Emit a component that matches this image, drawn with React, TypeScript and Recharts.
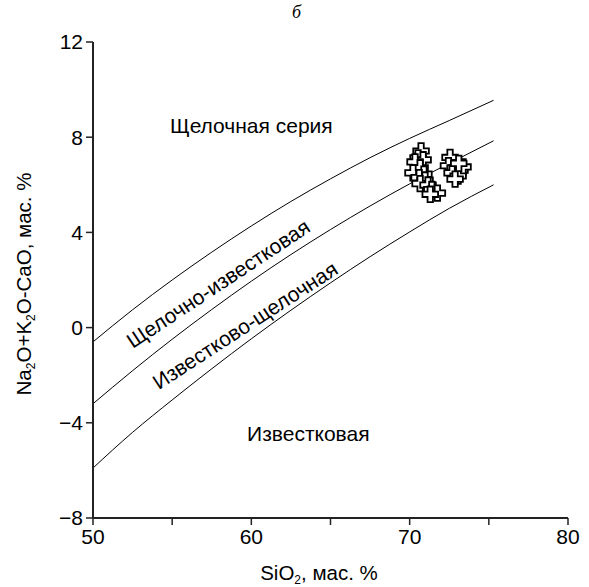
import React from 'react';
import { ComposedChart, Line, Scatter, XAxis, YAxis, ReferenceDot } from 'recharts';

// boundary curves (SiO2 vs Na2O+K2O-CaO)
const curveSiO2 = [50, 52.5, 55, 57.5, 60, 62.5, 65, 67.5, 70, 72.5, 75.3];
const alkalicLine = [-0.6, 0.75, 2.0, 3.17, 4.27, 5.3, 6.25, 7.14, 7.95, 8.7, 9.55];
const alkaliCalcicLine = [-3.2, -1.81, -0.49, 0.76, 1.95, 3.07, 4.12, 5.11, 6.04, 6.9, 7.85];
const calcAlkalicLine = [-5.9, -4.4, -3.04, -1.73, -0.47, 0.73, 1.88, 2.98, 4.02, 5.01, 6.0];

// samples
const sampleSiO2 = [70.72, 70.53, 70.85, 70.34, 70.66, 70.21, 70.9, 70.6, 70.97, 70.66, 71.16, 71.4, 71.75, 71.3,
  72.55, 72.45, 72.87, 73.18, 73.37, 72.68, 73.06, 72.87, 73.1];
const sampleMali = [7.42, 7.13, 7.05, 6.96, 6.71, 6.5, 6.45, 6.3, 6.2, 6.05, 5.99, 5.8, 5.65, 5.6,
  7.15, 6.8, 6.71, 6.62, 6.75, 6.5, 6.37, 6.24, 6.9];

const xTicks = [50, 55, 60, 65, 70, 75, 80];
const yTicks = [-8, -4, 0, 4, 8, 12];

const regionNames = ['Щелочная серия', 'Щелочно-известковая', 'Известково-щелочная', 'Известковая'];
const regionX = [60.0, 57.9, 59.6, 63.6];
const regionY = [8.5, 1.85, 0.1, -4.45];
const regionAngle = [0, -33.5, -33, 0];

const toPoints = (ys: number[]) => curveSiO2.map((x, i) => ({ x, y: ys[i] }));
const samples = sampleSiO2.map((x, i) => ({ x, y: sampleMali[i] }));

const FONT = '"Liberation Sans", Arial, sans-serif';

const PlusMarker = (props: any) => {
  const { cx, cy } = props;
  const a = 2.7;
  const l = 7.8;
  const pts = [
    [-a, -l], [a, -l], [a, -a], [l, -a], [l, a], [a, a],
    [a, l], [-a, l], [-a, a], [-l, a], [-l, -a], [-a, -a],
  ].map(([dx, dy]) => `${cx + dx},${cy + dy}`).join(' ');
  return <polygon points={pts} fill="#fff" stroke="#000" strokeWidth={1.8} />;
};

const regionLabel = (text: string, angle: number) => (props: any) => {
  const vb = props.viewBox;
  const cx = vb.x + (vb.width || 0) / 2;
  const cy = vb.y + (vb.height || 0) / 2;
  return (
    <text
      x={cx}
      y={cy}
      textAnchor="middle"
      dominantBaseline="central"
      fontFamily={FONT}
      fontSize={21}
      fill="#000"
      transform={angle ? `rotate(${angle} ${cx} ${cy})` : undefined}
    >
      {text}
    </text>
  );
};

const XTitle = (props: any) => {
  const vb = props.viewBox;
  return (
    <text x={319} y={vb.y + 62} textAnchor="middle" fontFamily={FONT} fontSize={20.5} fill="#000">
      SiO<tspan fontSize={12} dy={4}>2</tspan>
      <tspan dy={-4}>, мас. %</tspan>
    </text>
  );
};

const YTitle = () => {
  // baseline position; text is turned to read bottom-to-top
  const bx = 31;
  const by = 284;
  return (
    <text
      x={bx}
      y={by}
      textAnchor="middle"
      fontFamily={FONT}
      fontSize={20.5}
      fill="#000"
      transform={`rotate(-90 ${bx} ${by})`}
    >
      Na<tspan fontSize={12} dy={4}>2</tspan>
      <tspan dy={-4}>O+K</tspan>
      <tspan fontSize={12} dy={4}>2</tspan>
      <tspan dy={-4}>O-CaO, мас. %</tspan>
    </text>
  );
};

export default function App() {
  return (
    <div style={{ position: 'absolute', left: 0, top: 0, width: 589, height: 587, background: '#fff' }}>
      <div
        style={{
          position: 'absolute',
          left: 0,
          width: 589,
          top: 2,
          textAlign: 'center',
          fontFamily: '"Liberation Serif", serif',
          fontStyle: 'italic',
          fontSize: 18,
        }}
      >
        <span style={{ position: 'relative', left: 2 }}>б</span>
      </div>
      <ComposedChart width={589} height={587} margin={{ top: 42, right: 21, bottom: 0, left: 0 }}>
        <XAxis
          type="number"
          dataKey="x"
          domain={[50, 80]}
          ticks={xTicks}
          interval={0}
          tickFormatter={(v: number) => (v % 10 === 0 ? String(v) : '')}
          height={69}
          tickSize={7}
          tickMargin={4}
          axisLine={{ stroke: '#222', strokeWidth: 2 }}
          tickLine={{ stroke: '#222', strokeWidth: 1.5 }}
          tick={{ fill: '#000', fontSize: 21, fontFamily: FONT }}
          label={<XTitle />}
        />
        <YAxis
          type="number"
          dataKey="y"
          domain={[-8, 12]}
          ticks={yTicks}
          interval={0}
          tickFormatter={(v: number) => String(v).replace('-', '\u2212')}
          width={93}
          tickSize={7}
          tickMargin={3}
          axisLine={{ stroke: '#222', strokeWidth: 2 }}
          tickLine={{ stroke: '#222', strokeWidth: 1.5 }}
          tick={{ fill: '#000', fontSize: 21, fontFamily: FONT }}
          label={<YTitle />}
        />
        <Line data={toPoints(alkalicLine)} dataKey="y" type="monotone" stroke="#000" strokeWidth={1} dot={false} isAnimationActive={false} />
        <Line data={toPoints(alkaliCalcicLine)} dataKey="y" type="monotone" stroke="#000" strokeWidth={1} dot={false} isAnimationActive={false} />
        <Line data={toPoints(calcAlkalicLine)} dataKey="y" type="monotone" stroke="#000" strokeWidth={1} dot={false} isAnimationActive={false} />
        <Scatter data={samples} dataKey="y" shape={<PlusMarker />} isAnimationActive={false} />
        {regionNames.map((name, i) => (
          <ReferenceDot
            key={name}
            x={regionX[i]}
            y={regionY[i]}
            r={0}
            fill="none"
            stroke="none"
            label={regionLabel(name, regionAngle[i])}
          />
        ))}
      </ComposedChart>
    </div>
  );
}
